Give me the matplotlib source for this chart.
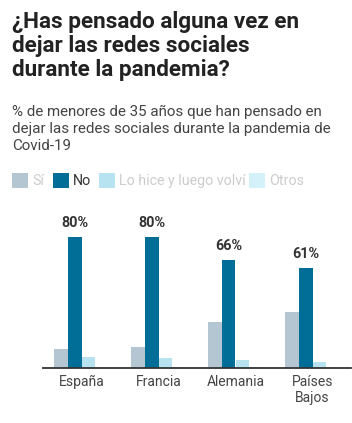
import matplotlib
matplotlib.use("Agg")
import matplotlib.pyplot as plt
from matplotlib.patches import Rectangle
import numpy as np

plt.rcParams['font.family'] = ['Roboto', 'DejaVu Sans']

categories = ["España", "Francia", "Alemania", "Países\nBajos"]
series_names = ["Sí", "No", "Lo hice y luego volví", "Otros"]
si = [12, 13, 28, 34]
no = [80, 80, 66, 61]
lo_hice = [7, 6, 5, 4]
otros = [1, 1, 1, 1]
series = [si, no, lo_hice, otros]
colors = ["#b3c6d2", "#006e96", "#b7e2ef", "#d4f1fa"]
legend_text_colors = ["#cccccc", "#333333", "#cccccc", "#cccccc"]

W, H = 352, 423
fig = plt.figure(figsize=(W / 100, H / 100), dpi=100)

def fx(px):
    return px / W

def fy(py):
    return 1 - py / H

# Title
fig.text(fx(12), fy(11), "¿Has pensado alguna vez en\ndejar las redes sociales\ndurante la pandemia?",
         fontsize=16.2, fontweight='bold', color='#222222', va='top', ha='left',
         linespacing=1.13)

# Subtitle
fig.text(fx(12), fy(105), "% de menores de 35 años que han pensado en\ndejar las redes sociales durante la pandemia de\nCovid-19",
         fontsize=10.9, color='#444444', va='top', ha='left', linespacing=1.27)

# Legend (manual)
leg_x = [12, 53, 99, 249]
for name, c, tc, x in zip(series_names, colors, legend_text_colors, leg_x):
    fig.add_artist(Rectangle((fx(x), fy(188)), 16 / W, 15 / H, transform=fig.transFigure,
                             facecolor=c, edgecolor='none'))
    fig.text(fx(x + 20), fy(181), name, fontsize=10.3, color=tc, va='center', ha='left')

# Axes
ax_left, ax_right = 43, 351
ax_bottom, ax_top = 368.3, 203.8
ax = fig.add_axes([fx(ax_left), fy(ax_bottom), (ax_right - ax_left) / W, (ax_bottom - ax_top) / H])

x = np.arange(len(categories))
bw = 0.176
offsets = (np.arange(4) - 1.5) * bw
for vals, c, off in zip(series, colors, offsets):
    ax.bar(x + off, vals, width=bw, color=c, edgecolor='none', zorder=2)

for xi, v in zip(x, no):
    ax.annotate(f"{v}%", (xi + offsets[1], v), xytext=(0, 5), textcoords='offset points',
                ha='center', va='bottom', fontsize=10.4, fontweight='bold', color='#333333')

ax.set_xlim(-0.5, 3.5)
ax.set_ylim(0, 100)
ax.set_xticks(x)
ax.set_xticklabels(categories, fontsize=10, color='#444444', linespacing=1.15)
ax.tick_params(axis='x', length=0, pad=5)
ax.set_yticks([])
for s in ['top', 'right', 'left']:
    ax.spines[s].set_visible(False)
ax.spines['bottom'].set_color('#333333')
ax.spines['bottom'].set_linewidth(1.3)
ax.patch.set_alpha(0)

fig.savefig("out.png", dpi=100)
